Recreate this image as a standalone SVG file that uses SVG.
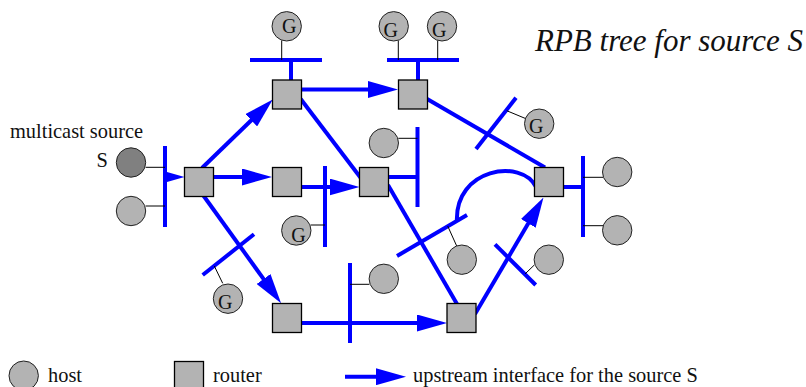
<svg xmlns="http://www.w3.org/2000/svg" width="806" height="387" viewBox="0 0 806 387">
<style>
.host{fill:#b3b3b3;stroke:#222;stroke-width:1}
.src{fill:#808080;stroke:#222;stroke-width:1}
.rtr{fill:#b3b3b3;stroke:#000;stroke-width:1.3}
.net{stroke:#0000ff;stroke-width:4;fill:none}
.thin{stroke:#000;stroke-width:1;fill:none}
.lbl{font-family:"Liberation Serif","Times New Roman",serif;font-size:20.4px;fill:#111}
.title{font-family:"Liberation Serif","Times New Roman",serif;font-style:italic;font-size:31px;fill:#111}
.g{font-family:"Liberation Serif","Times New Roman",serif;font-size:20px;fill:#111;text-anchor:middle}
</style>
<defs>
<marker id="ah" markerUnits="userSpaceOnUse" markerWidth="30" markerHeight="17" refX="3" refY="8.5" orient="auto">
<path d="M0,0 L30,8.5 L0,17 z" fill="#0000ff"/>
</marker>
</defs>
<text class="title" x="535" y="51">RPB tree for source S</text>
<text class="lbl" x="10" y="137.5">multicast source</text>
<text class="lbl" x="96.5" y="166.7">S</text>
<g id="connectors">
<line class="net" x1="202" y1="168" x2="253.4" y2="118.2" marker-end="url(#ah)"/>
<line class="net" x1="213.5" y1="177" x2="245" y2="177" marker-end="url(#ah)"/>
<line class="net" x1="203" y1="195" x2="265.3" y2="281.4" marker-end="url(#ah)"/>
<line class="net" x1="301.5" y1="89.5" x2="371" y2="89.5" marker-end="url(#ah)"/>
<line class="net" x1="301.5" y1="187" x2="332.5" y2="187" marker-end="url(#ah)"/>
<line class="net" x1="301.5" y1="323" x2="420" y2="323" marker-end="url(#ah)"/>
<line class="net" x1="475" y1="314" x2="529.8" y2="220.8" marker-end="url(#ah)"/>
<polygon points="167,172 184.5,177 167,182" fill="#0000ff"/>
<line class="net" x1="300.7" y1="99" x2="361" y2="178.3"/>
<line class="net" x1="426.7" y1="98.7" x2="545" y2="167.5"/>
<line class="net" x1="388" y1="185" x2="457" y2="304"/>
<line class="net" x1="291" y1="60" x2="291" y2="80"/>
<line class="net" x1="418" y1="60" x2="418" y2="80"/>
<line class="net" x1="388.7" y1="177" x2="418" y2="177"/>
<line class="net" x1="563.5" y1="187" x2="583" y2="187"/>
<line class="net" x1="250" y1="60" x2="322" y2="60"/>
<line class="net" x1="387" y1="60" x2="459" y2="60"/>
<line class="net" x1="165" y1="146" x2="165" y2="227"/>
<line class="net" x1="325" y1="166" x2="325" y2="247"/>
<line class="net" x1="417.5" y1="127" x2="417.5" y2="207"/>
<line class="net" x1="583" y1="156" x2="583" y2="237"/>
<line class="net" x1="350" y1="263" x2="350" y2="343"/>
<line class="net" x1="202.7" y1="275" x2="254" y2="234.3"/>
<line class="net" x1="476" y1="149" x2="516" y2="97.7"/>
<line class="net" x1="397" y1="256" x2="467" y2="215"/>
<line class="net" x1="495" y1="244.3" x2="535.7" y2="285"/>
<path class="net" d="M457,222 C454,168 522,158 536,187"/>
<line class="thin" x1="145.7" y1="167.3" x2="165" y2="167.3"/>
<line class="thin" x1="145.7" y1="206" x2="165" y2="206"/>
<line class="thin" x1="281.7" y1="40.5" x2="281.7" y2="60"/>
<line class="thin" x1="398.3" y1="40.5" x2="398.3" y2="60"/>
<line class="thin" x1="437.7" y1="40.5" x2="437.7" y2="60"/>
<line class="thin" x1="398.3" y1="138.3" x2="417.5" y2="138.3"/>
<line class="thin" x1="506.7" y1="110.7" x2="525" y2="118.3"/>
<line class="thin" x1="310.7" y1="225" x2="325" y2="225"/>
<line class="thin" x1="447.7" y1="226" x2="456.7" y2="246"/>
<line class="thin" x1="525" y1="274" x2="534.3" y2="265"/>
<line class="thin" x1="583" y1="177.3" x2="603" y2="177.3"/>
<line class="thin" x1="583" y1="225.7" x2="603" y2="225.7"/>
<line class="thin" x1="214.3" y1="266" x2="222.7" y2="283.3"/>
<line class="thin" x1="350" y1="284.3" x2="369.3" y2="284.3"/>
</g>
<g id="src"><circle class="src" cx="131" cy="162.5" r="14.7"/></g>
<g id="h_left"><circle class="host" cx="131" cy="211" r="14.7"/></g>
<g id="g1"><circle class="host" cx="286.7" cy="26.3" r="14.7"/><text class="g" x="289.2" y="32.7">G</text></g>
<g id="g2"><circle class="host" cx="393.7" cy="26.3" r="14.7"/><text class="g" x="390.8" y="36.5">G</text></g>
<g id="g3"><circle class="host" cx="442" cy="26.3" r="14.7"/><text class="g" x="439.2" y="36.5">G</text></g>
<g id="h_r5"><circle class="host" cx="383.8" cy="143" r="14.7"/></g>
<g id="g4"><circle class="host" cx="539.2" cy="123.7" r="14.7"/><text class="g" x="536.2" y="133.3">G</text></g>
<g id="g6"><circle class="host" cx="296.3" cy="230.5" r="14.7"/><text class="g" x="298.5" y="241.5">G</text></g>
<g id="h_bar1"><circle class="host" cx="461.8" cy="259.7" r="14.7"/></g>
<g id="h_bar2"><circle class="host" cx="548.8" cy="259.7" r="14.7"/></g>
<g id="h_r6a"><circle class="host" cx="617.2" cy="172" r="14.7"/></g>
<g id="h_r6b"><circle class="host" cx="617.2" cy="230.3" r="14.7"/></g>
<g id="g5"><circle class="host" cx="228" cy="298.7" r="14.7"/><text class="g" x="225.3" y="309.3">G</text></g>
<g id="h_bottom"><circle class="host" cx="383.8" cy="278.8" r="14.7"/></g>
<g id="r1"><rect class="rtr" x="184.5" y="167.5" width="29" height="29"/></g>
<g id="r2"><rect class="rtr" x="272.5" y="80" width="29" height="29"/></g>
<g id="r3"><rect class="rtr" x="272.5" y="167.5" width="29" height="29"/></g>
<g id="r4"><rect class="rtr" x="398.5" y="80" width="29" height="29"/></g>
<g id="r5"><rect class="rtr" x="359.5" y="167.5" width="29" height="29"/></g>
<g id="r6"><rect class="rtr" x="534.5" y="167.5" width="29" height="29"/></g>
<g id="r7"><rect class="rtr" x="272.5" y="303.5" width="29" height="29"/></g>
<g id="r8"><rect class="rtr" x="447" y="303.5" width="29" height="29"/></g>
<g id="legend">
<circle class="host" cx="23.7" cy="375.7" r="14.7"/>
<text class="lbl" x="48" y="381.5">host</text>
<rect class="rtr" x="174.5" y="361.5" width="29" height="29"/>
<text class="lbl" x="213" y="381.5">router</text>
<line class="net" x1="345" y1="376.7" x2="379" y2="376.7" marker-end="url(#ah)"/>
<text class="lbl" x="413" y="381.5">upstream interface for the source S</text>
</g>
</svg>
